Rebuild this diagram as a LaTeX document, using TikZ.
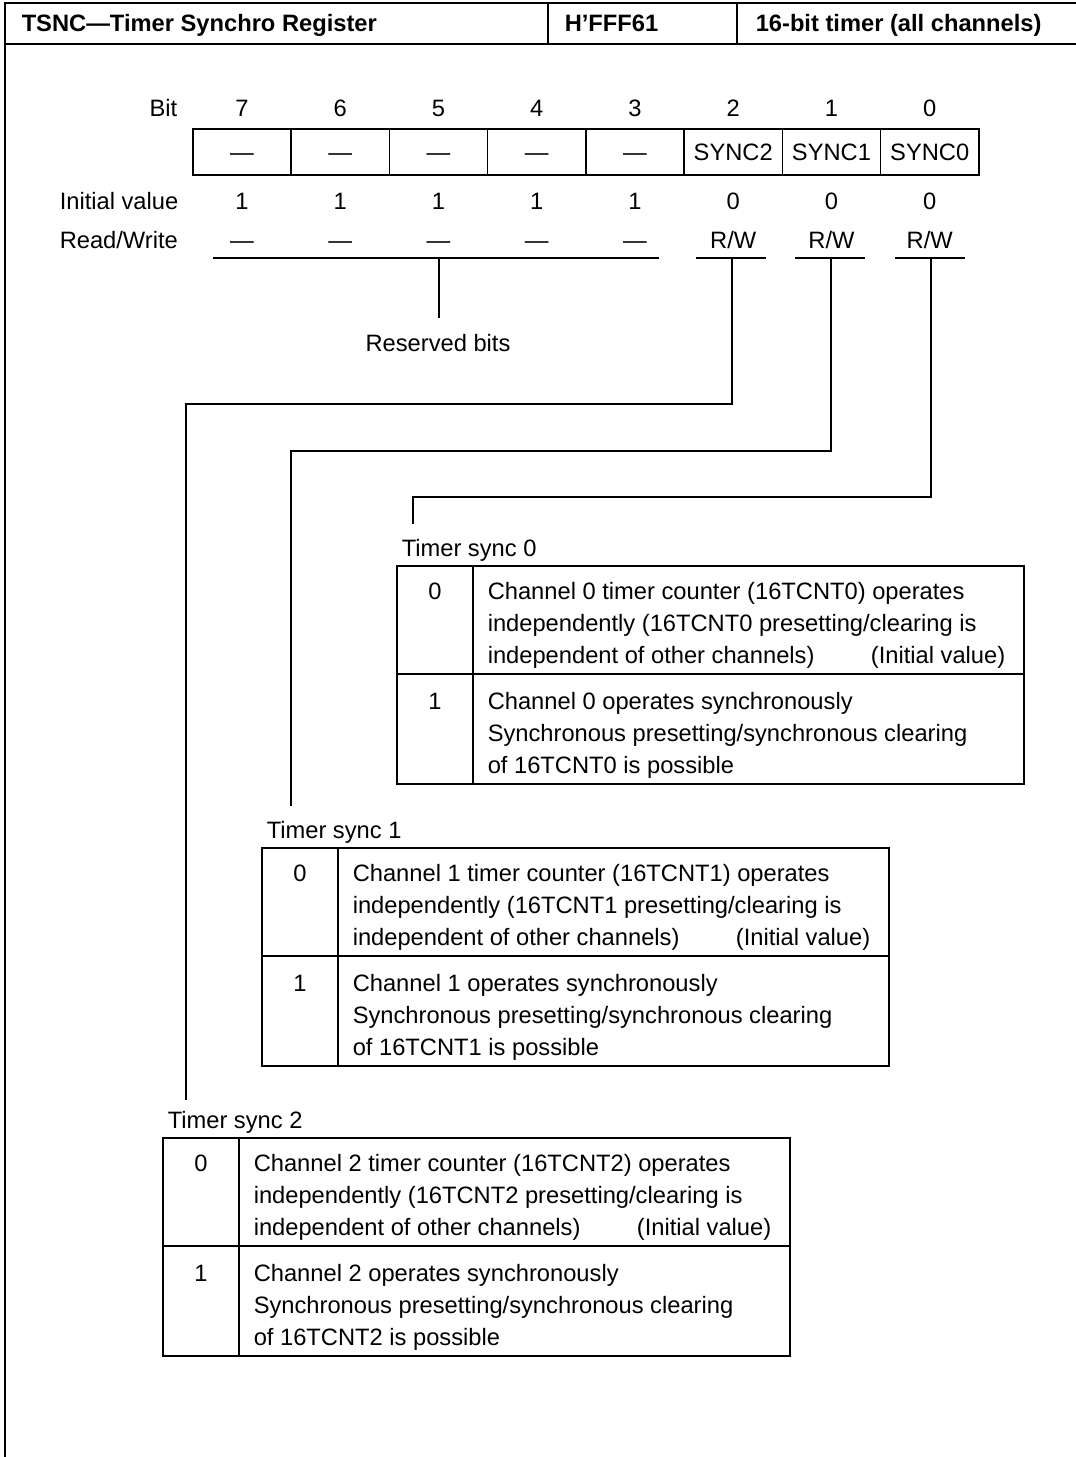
\documentclass[tikz,border=0pt]{standalone}
\usepackage{fontspec}
\setmainfont{Liberation Sans}
\newcommand\rw{R/W}
\begin{document}
\begin{tikzpicture}[x=0.5pt, y=-0.5pt, line width=0.75pt,
  font=\fontsize{11.85pt}{16pt}\selectfont,
  txt/.style={inner sep=0pt, anchor=base},
  lft/.style={inner sep=0pt, anchor=base west},
  cell/.style={draw, inner sep=0pt, minimum width=49.125pt, minimum height=23pt,
    text height=8.5pt, text depth=0pt}]
\useasboundingbox (0,0) rectangle (1076,1457);
% frame and header
\draw (1076,3) -- (5,3) -- (5,1457);
\draw (5,44) -- (1076,44) (548,3) -- (548,44) (737,3) -- (737,44);
\node[lft, font=\fontsize{11.85pt}{16pt}\selectfont\bfseries] (name) at (21,31) {TSNC—Timer Synchro Register};
\node[lft, font=\fontsize{11.85pt}{16pt}\selectfont\bfseries] (addr) at (564,31) {H’FFF61};
\node[lft, font=\fontsize{11.85pt}{16pt}\selectfont\bfseries] (mod) at (755,31) {16-bit timer (all channels)};
% register
\node[txt, anchor=base east] (bitlbl) at (178,116.5) {Bit};
\node[lft] (ivlbl) at (59,209.5) {Initial value};
\node[lft] (rwlbl) at (59,248) {Read/Write};
\foreach \b/\c/\v/\r [count=\i from 0] in {7/—/1/—, 6/—/1/—, 5/—/1/—, 4/—/1/—, 3/—/1/—,
    2/SYNC2/0/\rw, 1/SYNC1/0/\rw, 0/SYNC0/0/\rw} {
  \node[txt] (b\b) at ({242+98.25*\i},116.5) {\b};
  \node[cell] (c\b) at ({242+98.25*\i},152) {\c};
  \node[txt] (i\b) at ({242+98.25*\i},209.5) {\v};
  \node[txt] (r\b) at ({242+98.25*\i},248) {\r};
}
% reserved bits
\path (213,258) coordinate (rl) (659,258) coordinate (rr) (439,258) coordinate (rm) (439,318) coordinate (rb);
\draw (rl) -- (rr) (rm) -- (rb);
\node[txt] (rsv) at (438,351) {Reserved bits};
% bit lines to the tables
\foreach \b/\x/\y/\k/\t in {2/732/404/186/1100, 1/831/451/291/806, 0/931/497/413/524} {
  \path (\x,258) coordinate (u\b) (\k,\y) coordinate (k\b) (\k,\t) coordinate (t\b);
  \draw (\x-36,258) -- (\x+34,258);
  \draw (u\b) |- (k\b) -- (t\b);
}
% tables (base of a multi-line node = its last line)
\foreach \n/\x/\y in {0/397/566, 1/262/848, 2/163/1138} {
  \draw (\x,\y) rectangle ++(627,218) (\x,\y+108) -- ++(627,0) (\x+76,\y) -- ++(0,218);
  \node[lft] (s\n) at (\x+4,\y-9.5) {Timer sync \n};
  \node[txt] (z\n) at (\x+38,\y+33) {0};
  \node[txt] (o\n) at (\x+38,\y+143) {1};
  \node[lft, align=left] (d\n) at (\x+90,\y+97) {Channel \n\ timer counter (16TCNT\n) operates\\
    independently (16TCNT\n\ presetting/clearing is\\ independent of other channels)};
  \node[txt, anchor=base east] (iv\n) at (\x+609,\y+97) {(Initial value)};
  \node[lft, align=left] (e\n) at (\x+90,\y+207) {Channel \n\ operates synchronously\\
    Synchronous presetting/synchronous clearing\\ of 16TCNT\n\ is possible};
}
\end{tikzpicture}
\end{document}
